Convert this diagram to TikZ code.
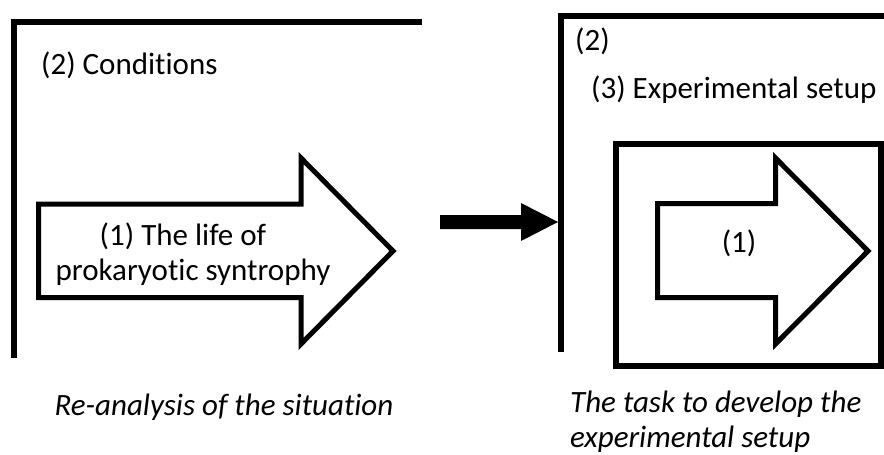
\documentclass[tikz,border=0pt]{standalone}
\usepackage{fontspec}
\setmainfont{Carlito}[Ligatures=NoCommon]
\usetikzlibrary{calc}
\begin{document}
\begin{tikzpicture}[x=1pt,y=-1pt,
  frame/.style={line width=6pt, line join=miter},
  blockarrow/.style={draw, line width=5pt, fill=white, line join=miter, miter limit=10},
  lbl/.style={inner sep=0pt, font=\fontsize{31}{35}\selectfont},
  caption/.style={inner sep=0pt, font=\fontsize{31}{35}\selectfont\itshape}]
\useasboundingbox[fill=white] (0,0) rectangle (884,455);

% left panel: conditions bracket and the outlined arrow
\draw[frame] (422,22) -- (14,22) -- (14,358);
\node[lbl, anchor=base west] (cond) at (41,74) {(2) Conditions};
\draw[blockarrow] (38.5,204) -- (301,204) -- (301,158) -- (393,251)
  -- (301,344) -- (301,297.5) -- (38.5,297.5) -- cycle;
\node[lbl, align=center] (life) at (193,254) {(1) The life of\hspace*{20pt}\\prokaryotic syntrophy};

% right panel: bracket, setup box and inner arrow
\draw[frame] (884,16) -- (561,16) -- (561,352);
\node[lbl, anchor=base west] (cond2) at (575,50) {(2)};
\node[lbl, anchor=base west] (setup) at (591,98) {(3) Experimental setup};
\draw[frame] (616,143.5) rectangle (881,366);
\draw[blockarrow] (657.5,203.5) -- (775.5,203.5) -- (775.5,158) -- (868,251)
  -- (775.5,344) -- (775.5,297.5) -- (657.5,297.5) -- cycle;
\node[lbl, anchor=base] (one) at (739,252) {(1)};

% thick transition arrow between the panels
\coordinate (from) at (440,222);
\coordinate (to) at (558,222);
\fill ($(from)+(0,-7)$) -- ($(to)+(-37,-7)$) -- ($(to)+(-37,-19)$) -- (to)
  -- ($(to)+(-37,19)$) -- ($(to)+(-37,7)$) -- ($(from)+(0,7)$) -- cycle;

% captions
\node[caption, anchor=base] (reana) at (224,415) {Re-analysis of the situation};
\node[caption, anchor=west, align=left] (task) at (570,422) {The task to develop the\\experimental setup};
\end{tikzpicture}
\end{document}
